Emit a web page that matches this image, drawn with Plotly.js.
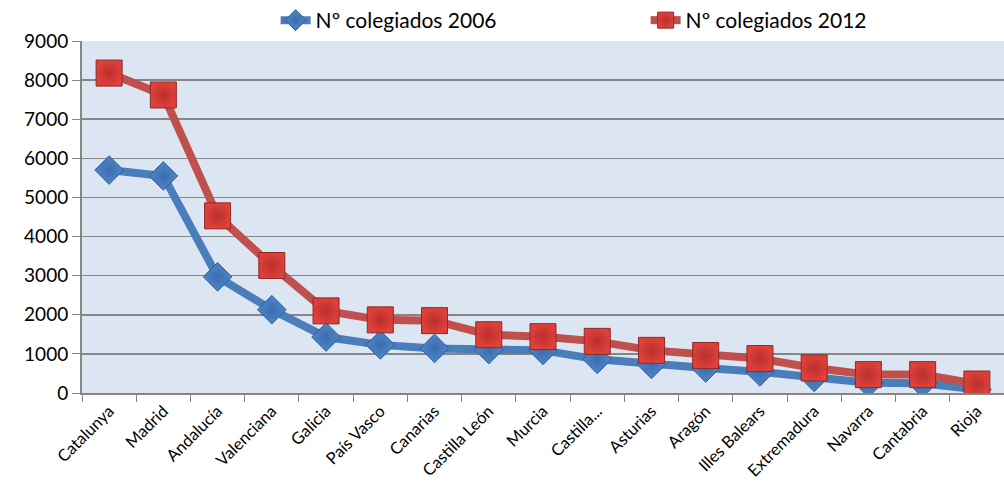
<!DOCTYPE html>
<html>
<head>
<meta charset="utf-8">
<script src="https://cdn.plot.ly/plotly-3.0.1.min.js"></script>
<style>html,body{margin:0;padding:0;background:#fff;}#chart{width:1004px;height:495px;}</style>
</head>
<body>
<div id="chart"></div>
<script>
const categories = ["Catalunya","Madrid","Andalucía","Valenciana","Galicia","País Vasco","Canarias","Castilla León","Murcia","Castilla...","Asturias","Aragón","Illes Balears","Extremadura","Navarra","Cantabria","Rioja"];
const colegiados2006 = [5700,5550,2970,2130,1430,1230,1140,1110,1090,860,730,640,540,400,260,250,90];
const colegiados2012 = [8180,7620,4530,3260,2100,1870,1850,1490,1440,1320,1090,960,880,640,470,470,230];
const yTicks = [0,1000,2000,3000,4000,5000,6000,7000,8000,9000];

const font = "Lato, 'Open Sans', sans-serif";
const traces = [
  {
    x: categories, y: colegiados2006, name: "Nº colegiados 2006", type: "scatter", mode: "lines+markers",
    line: {color: "#4a7ebb", width: 8},
    marker: {symbol: "diamond", size: 22, color: "#4f86c6", line: {color: "#2c5d96", width: 1}, gradient: {type: "radial", color: "#3a6db0"}}
  },
  {
    x: categories, y: colegiados2012, name: "Nº colegiados 2012", type: "scatter", mode: "lines+markers",
    line: {color: "#c0504d", width: 8},
    marker: {symbol: "square", size: 26, color: "#e0403a", line: {color: "#8c2a27", width: 1}, gradient: {type: "radial", color: "#b8302c"}}
  }
];
const layout = {
  width: 1004, height: 495,
  margin: {l: 82, r: 0, t: 41, b: 102, autoexpand: false},
  paper_bgcolor: "#ffffff",
  plot_bgcolor: "#dce6f2",
  font: {family: font, color: "#000"},
  showlegend: true,
  legend: {orientation: "h", x: 0.21, xanchor: "left", y: 1.0, yanchor: "bottom", font: {size: 21, family: font}, bgcolor: "rgba(0,0,0,0)", entrywidth: 325, entrywidthmode: "pixels"},
  xaxis: {
    type: "category", range: [-0.5, 16.5], tickson: "boundaries", ticks: "outside", ticklen: 7, tickcolor: "#868686",
    showline: true, linecolor: "#868686", linewidth: 2, showgrid: false, tickangle: -45,
    tickfont: {size: 16.5, family: font}
  },
  yaxis: {
    range: [0, 9000], tickvals: yTicks, ticktext: yTicks.map(String), ticks: "outside", ticklen: 8, tickcolor: "#868686",
    showline: true, linecolor: "#868686", linewidth: 2, showgrid: true, gridcolor: "#868686", gridwidth: 1.5,
    zeroline: false, tickfont: {size: 19, family: font}
  }
};
Plotly.newPlot("chart", traces, layout, {displayModeBar: false, staticPlot: true});
</script>
</body>
</html>
